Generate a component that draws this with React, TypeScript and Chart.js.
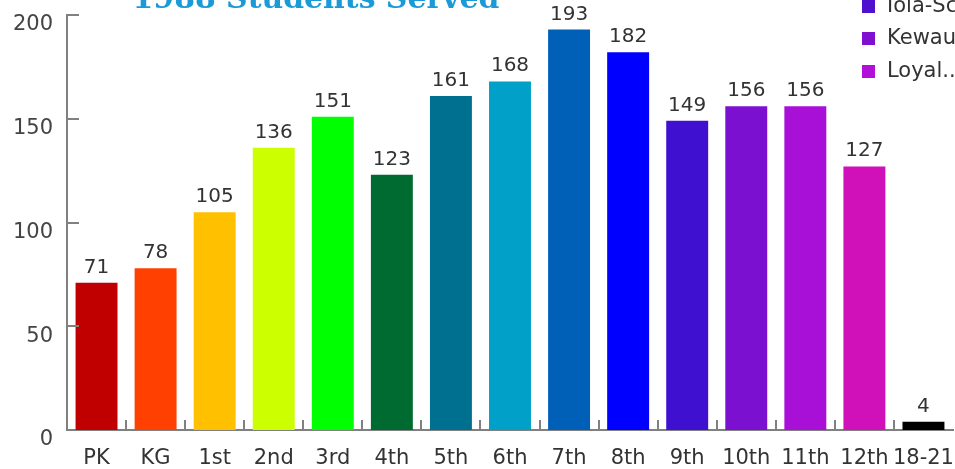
import React, { useEffect, useRef } from "react";
import { Chart, registerables } from "chart.js";

Chart.register(...registerables);

const categories = ["PK", "KG", "1st", "2nd", "3rd", "4th", "5th", "6th", "7th", "8th", "9th", "10th", "11th", "12th", "18-21"];
const students = [71, 78, 105, 136, 151, 123, 161, 168, 193, 182, 149, 156, 156, 127, 4];
const barColors = ["#c00000", "#ff4000", "#ffc000", "#ccff00", "#00ff00", "#006b30", "#007090", "#00a0c8", "#0060b8", "#0000ff", "#4010d0", "#7c10d0", "#a810d8", "#d010b8", "#000000"];
const yTicks = [0, 50, 100, 150, 200];
const titleText = "1988 Students Served";
const legendLabels = ["Iola-Scandinavia", "Kewaunee", "Loyal..."];
const legendColors = ["#5010d0", "#8010d0", "#b010d8"];

const FONT = "'DejaVu Sans', sans-serif";

const decorPlugin = {
  id: "decor",
  afterDraw(chart: any) {
    const { ctx, chartArea, scales } = chart;
    const x = scales.x;
    const y = scales.y;
    ctx.save();
    // inner tick marks
    ctx.strokeStyle = "#808080";
    ctx.lineWidth = 2;
    ctx.beginPath();
    yTicks.forEach((v) => {
      if (v === 0) return;
      const py = Math.round(y.getPixelForValue(v));
      ctx.moveTo(chartArea.left, py);
      ctx.lineTo(chartArea.left + 12, py);
    });
    for (let i = 1; i < categories.length; i++) {
      const px = Math.round((x.getPixelForValue(i - 1) + x.getPixelForValue(i)) / 2);
      ctx.moveTo(px, chartArea.bottom);
      ctx.lineTo(px, chartArea.bottom - 10);
    }
    ctx.stroke();

    // value labels
    ctx.fillStyle = "#333333";
    ctx.font = `20px ${FONT}`;
    ctx.textAlign = "center";
    ctx.textBaseline = "alphabetic";
    const meta = chart.getDatasetMeta(0);
    meta.data.forEach((bar: any, i: number) => {
      ctx.fillText(String(students[i]), bar.x, bar.y - 10);
    });

    // title (cut off at top)
    ctx.fillStyle = "#1a9bd7";
    let size = 28;
    ctx.font = `bold ${size}px 'DejaVu Serif', serif`;
    const w = ctx.measureText(titleText).width;
    size = (size * 367) / w;
    ctx.font = `bold ${size}px 'DejaVu Serif', serif`;
    ctx.textAlign = "center";
    ctx.fillText(titleText, 316, 8);

    // legend
    ctx.font = `21px ${FONT}`;
    ctx.textAlign = "left";
    ctx.textBaseline = "middle";
    const ys = [6, 38, 71];
    legendLabels.forEach((lab, i) => {
      ctx.fillStyle = legendColors[i];
      ctx.fillRect(862, ys[i] - 6, 13, 13);
      ctx.fillStyle = "#333333";
      ctx.fillText(lab, 887, ys[i] + 1);
    });
    ctx.restore();
  },
};

export default function App() {
  const ref = useRef<HTMLCanvasElement | null>(null);
  useEffect(() => {
    if (!ref.current) return;
    const chart = new Chart(ref.current, {
      type: "bar",
      data: {
        labels: categories,
        datasets: [
          {
            data: students,
            backgroundColor: barColors,
            borderWidth: 0,
            barPercentage: 0.71,
            categoryPercentage: 1,
          },
        ],
      },
      options: {
        responsive: false,
        animation: false,
        layout: { padding: { top: 15, right: 2, left: 0, bottom: 0 } },
        plugins: { legend: { display: false }, tooltip: { enabled: false }, title: { display: false } },
        scales: {
          x: {
            grid: { display: false, drawTicks: false },
            border: { display: true, color: "#808080", width: 2 },
            ticks: { color: "#333333", font: { family: FONT, size: 21 }, padding: 16, maxRotation: 0, autoSkip: false },
            afterFit: (s: any) => {
              s.height = 39;
              s.paddingLeft = 0;
              s.paddingRight = 0;
            },
          },
          y: {
            min: 0,
            max: 200,
            grid: { display: false, drawTicks: false },
            border: { display: true, color: "#808080", width: 2 },
            ticks: { stepSize: 50, color: "#444444", font: { family: FONT, size: 21 }, padding: 14, labelOffset: 10 },
            afterFit: (s: any) => {
              s.width = 67;
              s.paddingTop = 0;
              s.paddingBottom = 0;
            },
          },
        },
      },
      plugins: [decorPlugin],
    });
    return () => chart.destroy();
  }, []);
  return (
    <div style={{ position: "absolute", left: 0, top: 0, width: 955, height: 469, background: "#fff" }}>
      <canvas ref={ref} width={955} height={469} style={{ display: "block" }} />
    </div>
  );
}
